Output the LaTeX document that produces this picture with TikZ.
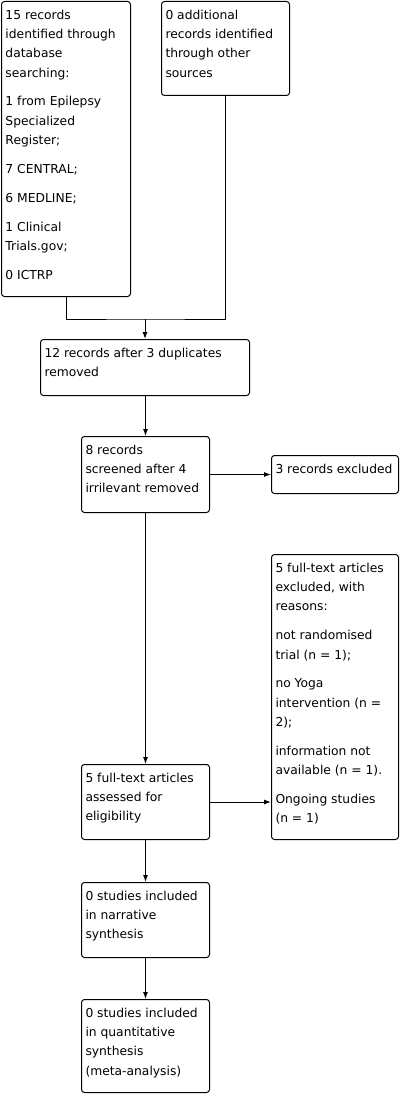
\documentclass[tikz,border=0pt]{standalone}
\usepackage{fontspec}
\setmainfont{DejaVu Sans}
\usetikzlibrary{arrows.meta}

% text block of a box: width, height, lines
\newcommand{\prismatext}[3]{%
  \parbox[c][#2][t]{#1}{\fontsize{12.3pt}{19.2pt}\selectfont
    \raggedright\leftskip=4pt\setlength{\parskip}{9.7pt}%
    \rule{0pt}{18pt}\ignorespaces#3}}

\begin{document}
\begin{tikzpicture}[
	x=1pt,y=-1pt,
	% Box style
	stage/.style={draw,line width=1pt,rounded corners=3pt,anchor=north west,inner sep=0pt},
	% Arrow style
	flow/.style={line width=1pt,-{Latex[length=7pt,width=5pt]}}
	]
	\useasboundingbox (0,0) rectangle (402,1094);
	%% Draw boxes
	\node (records) [stage] at (1,1) {\prismatext{129pt}{295pt}{%
		15 records\\ identified through\\ database\\ searching:\par
		1 from Epilepsy\\ Specialized\\ Register;\par
		7 CENTRAL;\par
		6 MEDLINE;\par
		1 Clinical\\ Trials.gov;\par
		0 ICTRP}};
	\node (other) [stage] at (161,1) {\prismatext{128pt}{94pt}{%
		0 additional\\ records identified\\ through other\\ sources}};
	\node (dedup) [stage] at (40,339) {\prismatext{209pt}{56pt}{%
		12 records after 3 duplicates\\ removed}};
	\node (screened) [stage] at (81,436) {\prismatext{128pt}{76pt}{%
		8 records\\ screened after 4\\ irrilevant removed}};
	\node (excluded) [stage] at (271,455) {\prismatext{127pt}{38pt}{%
		3 records excluded}};
	\node (reasons) [stage] at (271,554) {\prismatext{127pt}{285pt}{%
		5 full-text articles\\ excluded, with\\ reasons:\par
		not randomised\\ trial (n = 1);\par
		no Yoga\\ intervention (n =\\ 2);\par
		information not\\ available (n = 1).\par
		Ongoing studies\\ (n = 1)}};
	\node (fulltext) [stage] at (81,764) {\prismatext{128pt}{75pt}{%
		5 full-text articles\\ assessed for\\ eligibility}};
	\node (narrative) [stage] at (81,882) {\prismatext{128pt}{75pt}{%
		0 studies included\\ in narrative\\ synthesis}};
	\node (quant) [stage] at (81,999) {\prismatext{128pt}{93pt}{%
		0 studies included\\ in quantitative\\ synthesis\\ (meta-analysis)}};
	%% Draw arrows
	\coordinate (merge) at (145,319);
	\draw [line width=1pt] (records.south) |- (merge) -| (other.south);
	\draw [flow] (merge) -- (merge |- dedup.north);
	\draw [flow] (dedup.south -| screened.north) -- (screened.north);
	\draw [flow] (screened.east) -- (screened.east -| excluded.west);
	\draw [flow] (screened.south) -- (fulltext.north);
	\draw [flow] (fulltext.east) -- (fulltext.east -| reasons.west);
	\draw [flow] (fulltext.south) -- (narrative.north);
	\draw [flow] (narrative.south) -- (quant.north);
\end{tikzpicture}
\end{document}
